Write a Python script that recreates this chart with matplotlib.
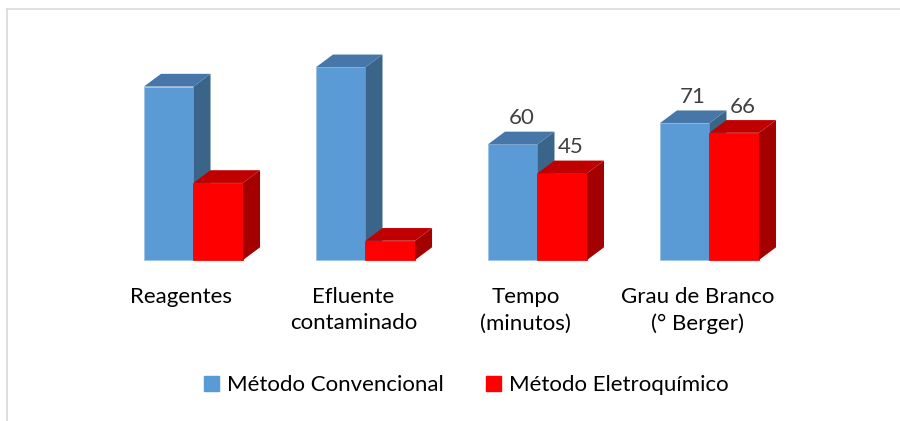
import matplotlib.pyplot as plt
from matplotlib.lines import Line2D
from matplotlib.patches import Patch

# Data
categorias = ["Reagentes", "Efluente\ncontaminado", "Tempo\n(minutos)", "Grau de Branco\n(° Berger)"]
convencional = [90, 100, 60, 71]
eletroquimico = [40, 10, 45, 66]
mostrar_valor = [False, False, True, True]
series = ["Método Convencional", "Método Eletroquímico"]

plt.rcParams['font.family'] = ['Lato', 'DejaVu Sans']

# face colours: front, top, side
cores_azul = ("#5b9bd5", "#4677a8", "#3b6489")
cores_verm = ("#ff0000", "#c00000", "#a40000")

largura = 0.288     # bar width (category units)
prof_x = 0.099      # depth offset in x
prof_y = 6.6        # depth offset in value units

fig = plt.figure(figsize=(9, 4.21), dpi=100)
ax = fig.add_axes([0, 0, 1, 1])
ax.set_xlim(-1.125, 4.108)
ax.set_ylim(-83.5, 134.9)
ax.axis("off")


def barra_3d(x0, valor, cores, z):
    frente, topo, lado = cores
    ax.bar(x0, valor, width=largura, align="edge", color=frente,
           edgecolor="#9dc3e6" if frente == cores_azul[0] else frente,
           linewidth=0.6, zorder=z)
    x1 = x0 + largura
    ax.fill([x1, x1 + prof_x, x1 + prof_x, x1],
            [0, prof_y, valor + prof_y, valor], color=lado, lw=0, zorder=z)
    ax.fill([x0, x0 + prof_x, x1 + prof_x, x1],
            [valor, valor + prof_y, valor + prof_y, valor], color=topo, lw=0, zorder=z)


for i in range(len(categorias)):
    barra_3d(i - largura, convencional[i], cores_azul, 2 + 2 * i)
    barra_3d(i, eletroquimico[i], cores_verm, 3 + 2 * i)
    if mostrar_valor[i]:
        for x0, v in [(i - largura, convencional[i]), (i, eletroquimico[i])]:
            ax.text(x0 + largura / 2 + prof_x / 2, v + prof_y + 1.8, str(v),
                    ha="center", va="bottom", fontsize=16, color="#404040", zorder=20)
    ax.text(i - 0.07, -14.0, categorias[i], ha="center", va="top",
            fontsize=16, color="#000000", linespacing=1.4)

handles = [Patch(color=cores_azul[0]), Patch(color=cores_verm[0])]
fig.legend(handles, series, loc="center", bbox_to_anchor=(0.518, 0.085), ncol=2,
           frameon=False, fontsize=16, handlelength=0.7, handleheight=0.7,
           handletextpad=0.35, columnspacing=1.9)

# light frame along top and left edges
fig.add_artist(Line2D([7 / 900, 1], [1 - 9 / 421, 1 - 9 / 421], color="#d9d9d9", lw=1.2))
fig.add_artist(Line2D([7 / 900, 7 / 900], [0, 1 - 9 / 421], color="#d9d9d9", lw=1.2))

fig.savefig("out.png", dpi=100)
